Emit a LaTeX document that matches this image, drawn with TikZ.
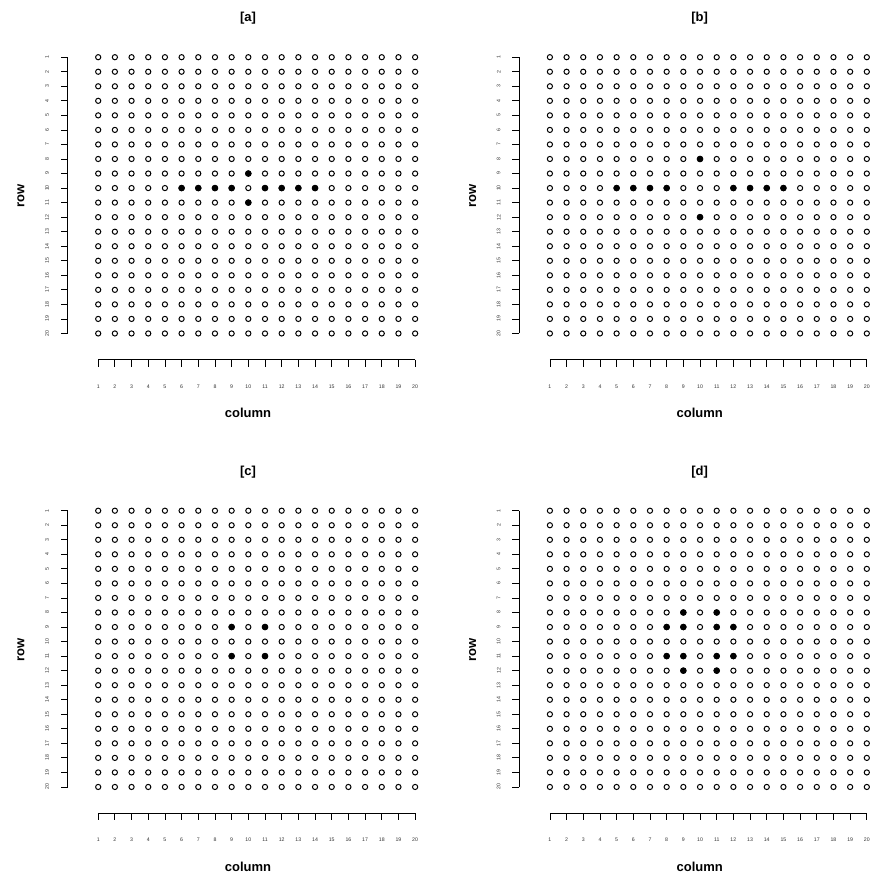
\documentclass[tikz,border=0pt]{standalone}
\usepackage{fontspec}
\setmainfont{Liberation Sans}
\begin{document}
\begin{tikzpicture}[x=1pt,y=-1pt,
  opendot/.style={line width=1.0pt,draw=black},
  axisline/.style={line width=0.8pt,draw=black},
  ticklab/.style={font=\fontsize{5.2}{5.2}\selectfont,text=black!80,inner sep=0pt},
  labtext/.style={font=\fontsize{13}{13}\selectfont\bfseries,inner sep=0pt},
  titletext/.style={font=\fontsize{13}{13}\selectfont\bfseries,inner sep=0pt}]
\useasboundingbox (0,0) rectangle (870,876);
\newcommand\gridpanel[4]{%
 \begin{scope}[shift={(#1,#2)}]
  \foreach \r in {1,...,20}{\foreach \c in {1,...,20}{%
    \draw[opendot] ({98.2+(\c-1)*16.68},{57.2+(\r-1)*14.54}) circle (2.6pt);}}
  \foreach \r/\c in {#4}{%
    \fill[black] ({98.2+(\c-1)*16.68},{57.2+(\r-1)*14.54}) circle (3.3pt);}
  % x axis
  \coordinate (xs#3) at (98.2,359.5);
  \coordinate (xe#3) at (415.12,359.5);
  \draw[axisline] (xs#3) -- (xe#3);
  \foreach \c in {1,...,20}{%
    \draw[axisline] ({98.2+(\c-1)*16.68},359.5) -- ++(0,7);
    \node[ticklab] (xl#3\c) at ({98.2+(\c-1)*16.68},386.5) {\c};}
  % y axis
  \coordinate (ys#3) at (67.7,57.2);
  \coordinate (ye#3) at (67.7,333.46);
  \draw[axisline] (ys#3) -- (ye#3);
  \foreach \r in {1,...,20}{%
    \draw[axisline] (67.7,{57.2+(\r-1)*14.54}) -- ++(-7,0);
    \node[ticklab,rotate=90] (yl#3\r) at (47,{57.2+(\r-1)*14.54}) {\r};}
  \node[titletext] (title#3) at (248,18.5) {[#3]};
  \node[labtext] (col#3) at (248,413) {column};
  \node[labtext,rotate=90] (row#3) at (21,196) {row};
 \end{scope}}
\gridpanel{0}{0}{a}{9/10,10/6,10/7,10/8,10/9,10/11,10/12,10/13,10/14,11/10}
\gridpanel{451.7}{0}{b}{8/10,10/5,10/6,10/7,10/8,10/12,10/13,10/14,10/15,12/10}
\gridpanel{0}{453.5}{c}{9/9,9/11,11/9,11/11}
\gridpanel{451.7}{453.5}{d}{8/9,8/11,9/8,9/9,9/11,9/12,11/8,11/9,11/11,11/12,12/9,12/11}
\end{tikzpicture}
\end{document}
